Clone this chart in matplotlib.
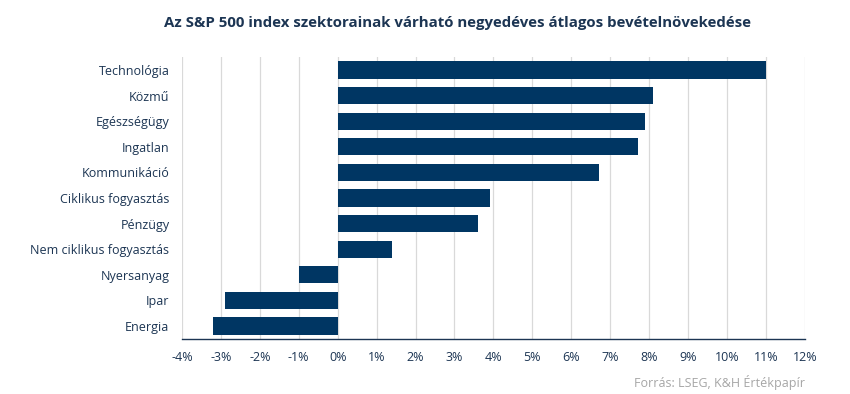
import matplotlib
matplotlib.use("Agg")
import matplotlib.pyplot as plt
from matplotlib.ticker import FuncFormatter

plt.rcParams['font.family'] = ['Open Sans', 'DejaVu Sans']

# sector names and expected average quarterly revenue growth (%)
sectors = ['Technológia', 'Közmű', 'Egészségügy', 'Ingatlan', 'Kommunikáció',
           'Ciklikus fogyasztás', 'Pénzügy', 'Nem ciklikus fogyasztás',
           'Nyersanyag', 'Ipar', 'Energia']
growth = [11.0, 8.1, 7.9, 7.7, 6.7, 3.9, 3.6, 1.4, -1.0, -2.9, -3.2]
xticks = list(range(-4, 13))

navy = '#003663'
text_col = '#1c3553'

fig = plt.figure(figsize=(8.5, 3.94), dpi=100)
ax = fig.add_axes([0.214, 0.140, 0.733, 0.715])

ypos = list(range(len(sectors)))
ax.barh(ypos, growth, height=0.67, color=navy, zorder=3)
ax.set_ylim(len(sectors) - 0.5, -0.5)
ax.set_xlim(-4, 12)
ax.set_xticks(xticks)
ax.xaxis.set_major_formatter(FuncFormatter(lambda v, p: '%d%%' % v))
ax.set_yticks(ypos)
ax.set_yticklabels(sectors)

ax.grid(axis='x', color='#d9d9d9', linewidth=0.9, zorder=0)
for s in ['top', 'right', 'left']:
    ax.spines[s].set_visible(False)
ax.spines['bottom'].set_color('#1c3553')
ax.spines['bottom'].set_linewidth(1.0)
ax.tick_params(axis='both', length=0, colors=text_col, labelsize=9)
ax.tick_params(axis='x', pad=9)
ax.tick_params(axis='y', pad=9)

fig.text(0.538, 0.942, 'Az S&P 500 index szektorainak várható negyedéves átlagos bevételnövekedése',
         ha='center', va='center', fontsize=10.8, fontweight='bold', color=text_col)
fig.text(0.947, 0.030, 'Forrás: LSEG, K&H Értékpapír', ha='right', va='center',
         fontsize=9, color='#a6a6a6')

fig.savefig('out.png', dpi=100)
